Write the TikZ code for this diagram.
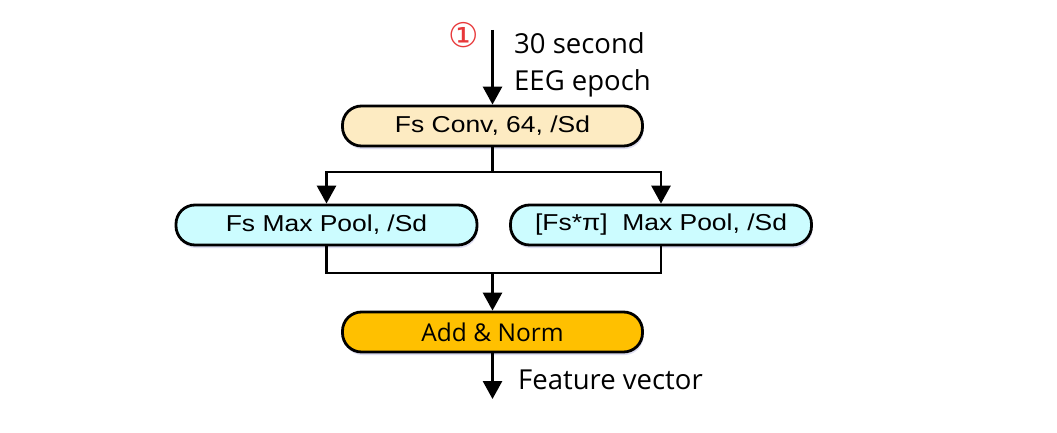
\documentclass[tikz,border=0pt]{standalone}
\usepackage{fontspec}
\setmainfont{Liberation Sans}
\newfontfamily\segoe{Open Sans}
\newfontfamily\symb{DejaVu Sans}
\usetikzlibrary{arrows.meta,shadows}
\definecolor{convfill}{HTML}{FDEBC2}
\definecolor{poolfill}{HTML}{CCFCFF}
\definecolor{addfill}{HTML}{FFC000}
\definecolor{numred}{HTML}{E8383A}
\tikzset{
  blk/.style={draw=black, line width=2.8pt, rounded corners=19pt, minimum width=300pt, minimum height=40pt, inner sep=0pt,
    drop shadow={opacity=0.18, shadow xshift=1pt, shadow yshift=-3pt, fill=blue!40!gray}},
  arialtxt/.style={font=\fontsize{23}{26}\selectfont},
  segtxt/.style={font=\segoe\fontsize{27.5}{37}\selectfont, inner sep=0pt},
  conn/.style={line width=2.8pt},
  arr/.style={line width=2.8pt, -{Triangle[width=19pt,length=18pt]}},
}
\newcommand{\wide}[1]{\scalebox{1.15}[1]{#1}}
\begin{document}
\begin{tikzpicture}[x=1pt,y=-1pt]
\useasboundingbox (0,0) rectangle (1057,433);
\fill[white] (0,0) rectangle (1057,433);
% nodes
\node[blk, fill=convfill, arialtxt] (conv) at (492.5,126) {\wide{Fs Conv, 64, /Sd}};
\node[blk, fill=poolfill, arialtxt, minimum width=301pt] (poolL) at (326.5,225) {\wide{Fs Max Pool, /Sd}};
\node[blk, fill=poolfill, arialtxt, minimum width=301pt] (poolR) at (661,225) {\wide{[Fs*π]\ \ Max Pool, /Sd}};
\node[blk, fill=addfill, font=\segoe\fontsize{24.5}{28}\selectfont] (add) at (492.5,332) {Add \& Norm};
% free ends
\coordinate (in) at (492.5,30);
\coordinate (out) at (492.5,399);
\coordinate (split) at (492.5,172);
\coordinate (merge) at (492.5,273);
% labels
\node[segtxt, anchor=west, align=left] (lbl) at (514,65) {30 second\\EEG epoch};
\node[segtxt, anchor=west] (feat) at (518,380) {Feature vector};
\node[font=\symb\fontsize{34}{36}\selectfont, text=numred, inner sep=0pt] (num) at (463.5,35) {①};
% connectors
\draw[arr] (in) -- (conv.north);
\draw[conn] (conv.south) -- (split);
\draw[arr] (split) -| (poolL.north);
\draw[arr] (split) -| (poolR.north);
\draw[conn] (poolL.south) |- (merge);
\draw[conn] (poolR.south) |- (merge);
\draw[arr] (merge) -- (add.north);
\draw[arr] (add.south) -- (out);
\end{tikzpicture}
\end{document}
